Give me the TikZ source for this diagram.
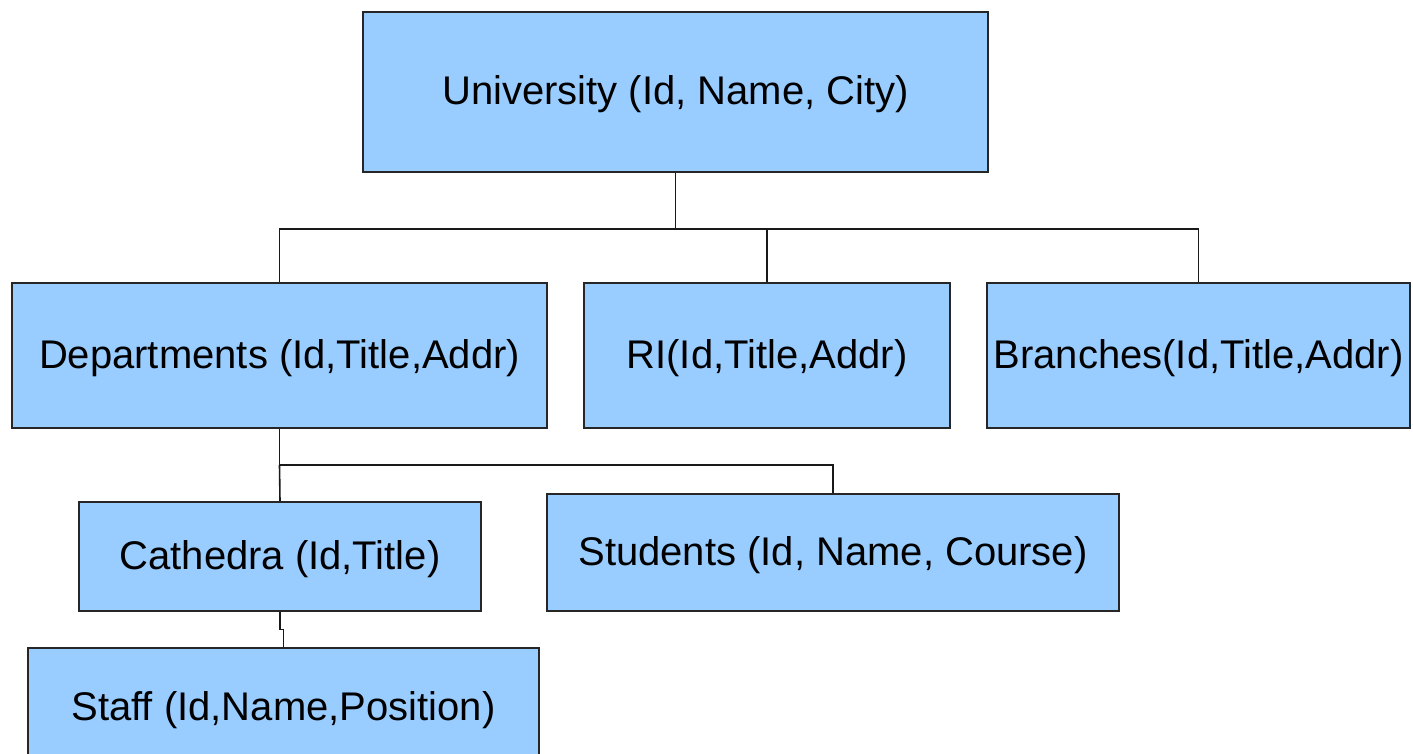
\documentclass[tikz,border=0pt]{standalone}
\usepackage{fontspec}
\setmainfont{Liberation Sans}
\begin{document}
\begin{tikzpicture}[x=1pt,y=-1pt,
  entity/.style={draw=black!85,line width=1.6pt,fill=boxblue,inner sep=0pt,
    text height=29pt,text depth=4pt,
    font=\fontsize{40}{48}\selectfont},
  link/.style={draw=black!90,line width=1.6pt}]
\definecolor{boxblue}{HTML}{99CCFF}
\useasboundingbox[fill=white] (0,0) rectangle (1413,754);
\begin{scope}
\clip (0,0) rectangle (1413,754);
% entities
\node[entity,minimum width=625pt,minimum height=160pt] (uni) at (675.5,92) {University (Id, Name, City)};
\node[entity,minimum width=535pt,minimum height=145pt] (dep) at (279.5,355.5) {Departments (Id,Title,Addr)};
\node[entity,minimum width=366pt,minimum height=145pt] (ri) at (767,355.5) {RI(Id,Title,Addr)};
\node[entity,minimum width=423pt,minimum height=145pt] (br) at (1198.5,355.5) {Branches(Id,Title,Addr)};
\node[entity,minimum width=402pt,minimum height=109pt] (cat) at (280,556.5) {Cathedra (Id,Title)};
\node[entity,minimum width=572pt,minimum height=117pt] (stu) at (833,552.5) {Students (Id, Name, Course)};
\node[entity,minimum width=511pt,minimum height=112pt,text height=32pt,text depth=0pt] (staff) at (283.5,704) {Staff (Id,Name,Position)};
% bus levels
\coordinate (bus1) at (0,229);
\coordinate (bus2) at (0,465);
\coordinate (jog) at (0,629.5);
% connectors
\draw[link] (uni.south) -- (uni.south |- bus1) -| (dep.north);
\draw[link] (uni.south |- bus1) -| (ri.north);
\draw[link] (uni.south |- bus1) -| (br.north);
\draw[link] (dep.south) -- (dep.south |- bus2) -| (stu.north);
\draw[link] (dep.south |- bus2) -- (cat.north);
\draw[link] (cat.south) -- (cat.south |- jog) -| (staff.north);
\end{scope}
\end{tikzpicture}
\end{document}
